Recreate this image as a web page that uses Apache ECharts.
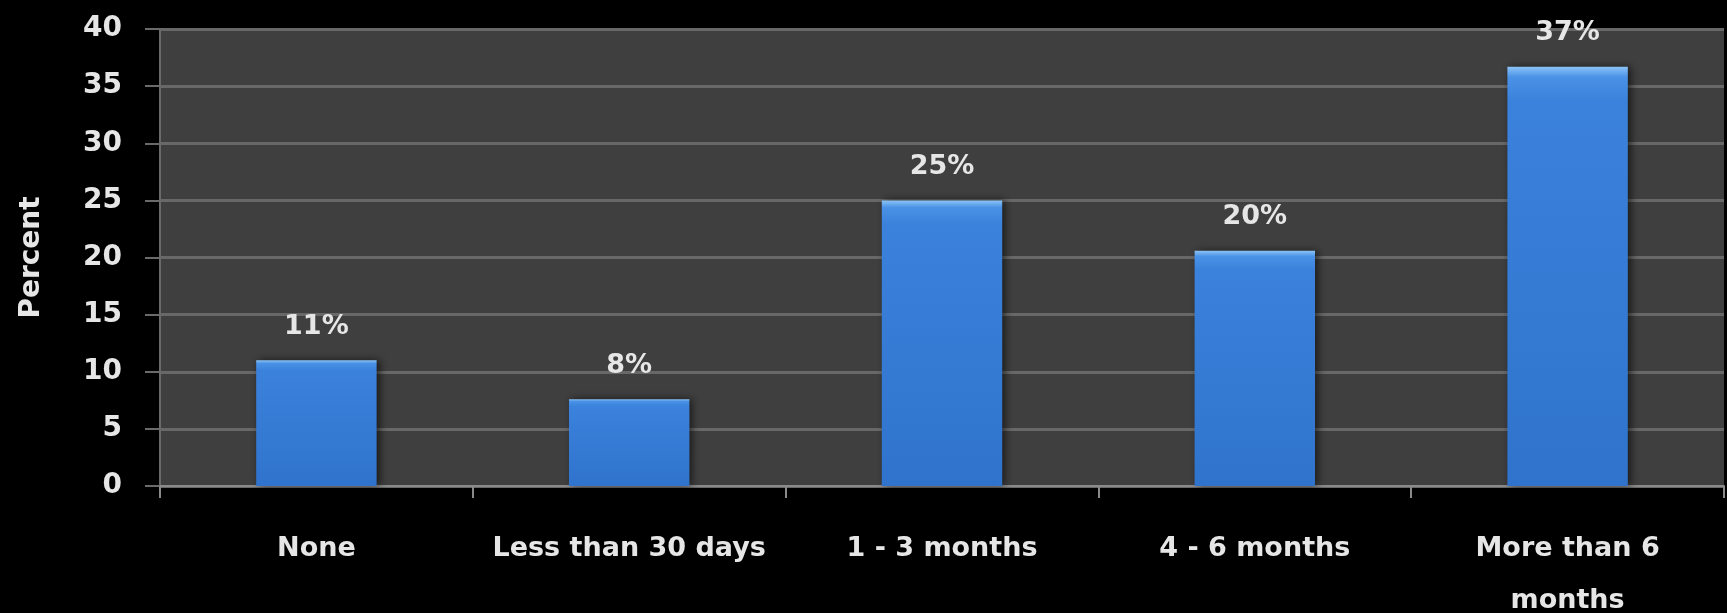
<!DOCTYPE html>
<html><head><meta charset="utf-8">
<script src="https://cdn.jsdelivr.net/npm/echarts@6/dist/echarts.min.js"></script>
<style>html,body{margin:0;padding:0;background:#000;}#c{width:1727px;height:613px;}</style>
</head><body><div id="c"></div>
<script>
const categories = ['None', 'Less than 30 days', '1 - 3 months', '4 - 6 months', 'More than 6\nmonths'];
const values = [11, 7.6, 25, 20.6, 36.7];
const valueLabels = ['11%', '8%', '25%', '20%', '37%'];
const yTicks = [0, 5, 10, 15, 20, 25, 30, 35, 40];

const FONT = '"DejaVu Sans", sans-serif';
const TXT = '#e6e6e6';
const chart = echarts.init(document.getElementById('c'));
chart.setOption({
  backgroundColor: '#000',
  animation: false,
  grid: { left: 160, right: 3, top: 29, bottom: 127, show: true, backgroundColor: '#3f3f3f', borderWidth: 0, containLabel: false, outerBoundsMode: 'none' },
  xAxis: {
    type: 'category', data: categories,
    axisLine: { show: true, lineStyle: { color: '#8a8a8a', width: 2 } },
    axisTick: { show: true, interval: 0, length: 12, lineStyle: { color: '#8a8a8a', width: 2 } },
    axisLabel: { interval: 0, color: TXT, fontFamily: FONT, fontWeight: 'bold', fontSize: 27, margin: 37, lineHeight: 52 }
  },
  yAxis: {
    type: 'value', min: yTicks[0], max: yTicks[yTicks.length - 1], interval: 5,
    name: 'Percent', nameLocation: 'middle', nameGap: 114, nameRotate: 90,
    nameTextStyle: { color: TXT, fontFamily: FONT, fontWeight: 'bold', fontSize: 28 },
    axisLine: { show: true, lineStyle: { color: '#6a6a6a', width: 2 } },
    axisTick: { show: true, length: 15, lineStyle: { color: '#6a6a6a', width: 2 } },
    axisLabel: { color: TXT, fontFamily: FONT, fontWeight: 'bold', fontSize: 28, margin: 38 },
    splitLine: { show: true, lineStyle: { color: '#686868', width: 3 } }
  },
  series: [{
    type: 'bar', data: values, barWidth: '38.5%',
    itemStyle: {
      color: new echarts.graphic.LinearGradient(0, 0, 0, 1, [
        { offset: 0, color: '#8cc4f6' },
        { offset: 0.025, color: '#4a92e6' },
        { offset: 0.08, color: '#3b82dc' },
        { offset: 1, color: '#2f73cc' }
      ]),
      shadowColor: 'rgba(0,0,0,0.6)', shadowBlur: 8, shadowOffsetX: 3
    },
    label: {
      show: true, position: 'top', distance: 20,
      color: TXT, fontFamily: FONT, fontWeight: 'bold', fontSize: 27,
      formatter: p => valueLabels[p.dataIndex]
    }
  }]
});
</script></body></html>
